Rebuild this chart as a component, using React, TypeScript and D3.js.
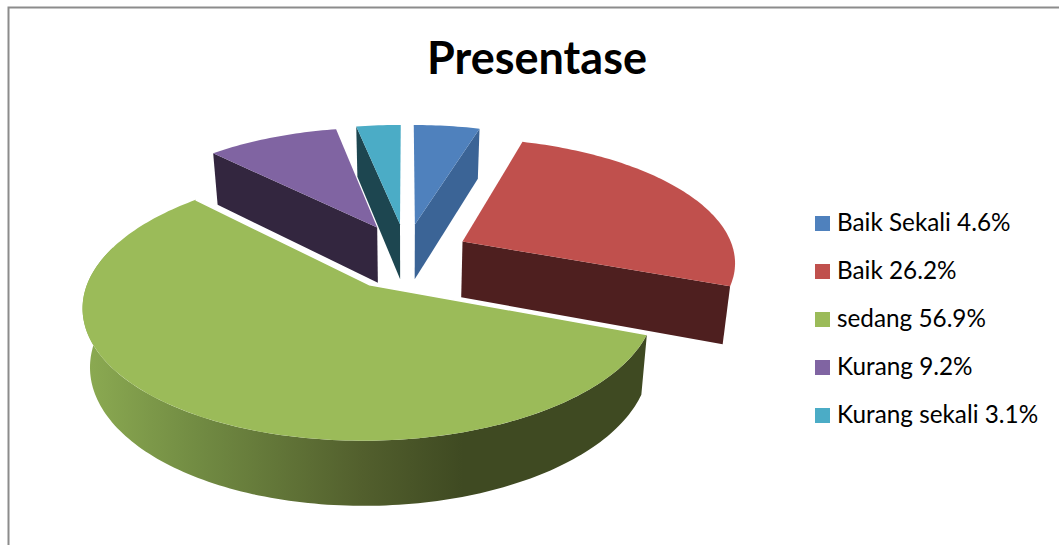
import React, { useRef, useEffect } from "react";
import * as d3 from "d3";

const categories = ["Baik Sekali", "Baik", "sedang", "Kurang", "Kurang sekali"];
const percentages = [4.6, 26.2, 56.9, 9.2, 3.1];
const topColors = ["#4F81BD", "#C0504D", "#9BBB59", "#8064A2", "#4BACC6"];
const sideColors = ["#3B6496", "#4E1F1F", "#3D4A20", "#33263F", "#1D4650"];

// 绘制顺序: 从后往前
const drawOrder = [0, 4, 3, 1, 2];
const wallSlice = 2; // only the big slice shows its curved wall

const width = 1059;
const height = 545;
const fontFamily = "Lato, 'Open Sans', sans-serif";

// 透视参数
const cx = 406;
const cy = 256;
const rx = 273;
const ry = 123;
const perspective = 0.15;
const explodeU = 0.235;
const explodeV = 0.27;
const depth = 56.5;
const bottomShrink = 0.023;

type Pt = [number, number];

// angle is clockwise from the far side of the disc
function project(angle: number, radius: number, mid: number, bottom = false): Pt {
  const u = explodeU * Math.sin(mid) + radius * Math.sin(angle);
  const v = explodeV * Math.cos(mid) + radius * Math.cos(angle);
  const n = 1 + perspective * v;
  const x = cx + (rx * u) / n;
  const y = cy - (ry * v) / n;
  if (!bottom) return [x, y];
  return [cx + (x - cx) * (1 - bottomShrink), y + depth / Math.pow(n, 0.7)];
}

function arcAngles(a0: number, a1: number): number[] {
  const steps = Math.max(2, Math.ceil((a1 - a0) / 0.02));
  return d3.range(steps + 1).map((i) => a0 + ((a1 - a0) * i) / steps);
}

export default function App() {
  const ref = useRef<SVGSVGElement>(null);

  useEffect(() => {
    const svg = d3.select(ref.current);
    svg.selectAll("*").remove();

    const slices = d3.pie<number>().sort(null)(percentages);
    const closed = d3.line().curve(d3.curveLinearClosed);
    const open = d3.line();

    const defs = svg.append("defs");
    const grad = defs
      .append("linearGradient")
      .attr("id", "greenWall")
      .attr("gradientUnits", "userSpaceOnUse")
      .attr("x1", 83)
      .attr("x2", 641)
      .attr("y1", 0)
      .attr("y2", 0);
    grad.append("stop").attr("offset", 0).attr("stop-color", "#8CAB52");
    grad.append("stop").attr("offset", 0.2).attr("stop-color", "#728C43");
    grad.append("stop").attr("offset", 0.5).attr("stop-color", "#525F2D");
    grad.append("stop").attr("offset", 0.68).attr("stop-color", "#3F4A22");
    grad.append("stop").attr("offset", 1).attr("stop-color", "#3F4A22");

    // 外框
    svg
      .append("path")
      .attr("d", `M8.5,${height}V7.5H${width}`)
      .attr("fill", "none")
      .attr("stroke", "#8C8C8C")
      .attr("stroke-width", 2);

    // 标题
    svg
      .append("text")
      .attr("x", 537)
      .attr("y", 74)
      .attr("text-anchor", "middle")
      .attr("font-family", fontFamily)
      .attr("font-size", 45)
      .attr("font-weight", 700)
      .attr("fill", "#000")
      .text("Presentase");

    const pieG = svg.append("g");

    drawOrder.forEach((i) => {
      const s = slices[i];
      const a0 = s.startAngle;
      const a1 = s.endAngle;
      const mid = (a0 + a1) / 2;
      const g = pieG.append("g");

      // 切面
      const radialFace = (angle: number) => {
        const pts: Pt[] = [
          project(angle, 0, mid),
          project(angle, 1, mid),
          project(angle, 1, mid, true),
          project(angle, 0, mid, true),
        ];
        g.append("path").attr("d", closed(pts)).attr("fill", sideColors[i]);
      };
      if (Math.sin(a0) < -1e-6) radialFace(a0);
      if (Math.sin(a1) > 1e-6) radialFace(a1);

      // 外侧弧面, runs a little past 270deg so the silhouette stays filled
      if (i === wallSlice) {
        const angles = arcAngles(a0, (3 * Math.PI) / 2 + 0.3);
        const pts: Pt[] = [
          ...angles.map((a) => project(a, 1, mid)),
          ...angles.slice().reverse().map((a) => project(a, 1, mid, true)),
        ];
        g.append("path").attr("d", closed(pts)).attr("fill", "url(#greenWall)");
      }

      // 顶面
      const topPts: Pt[] = [
        project(a0, 0, mid),
        ...arcAngles(a0, a1).map((a) => project(a, 1, mid)),
      ];
      g.append("path").attr("d", closed(topPts)).attr("fill", topColors[i]);

      // white edge along the straight cuts of the big slice
      if (i === wallSlice) {
        g.append("path")
          .attr("d", open([project(a1, 1, mid), project(a1, 0, mid), project(a0, 1, mid)]))
          .attr("fill", "none")
          .attr("stroke", "#fff")
          .attr("stroke-width", 1.5);
      }
    });

    // 图例
    const legendY = d3
      .scalePoint<number>()
      .domain(d3.range(categories.length))
      .range([223.5, 415.5]);
    const legend = svg
      .selectAll("g.legend")
      .data(categories)
      .join("g")
      .attr("class", "legend")
      .attr("transform", (_, i) => `translate(815,${legendY(i)})`);
    legend
      .append("rect")
      .attr("x", 0)
      .attr("y", -7.5)
      .attr("width", 15)
      .attr("height", 15)
      .attr("fill", (_, i) => topColors[i]);
    legend
      .append("text")
      .attr("x", 22)
      .attr("y", 7.5)
      .attr("font-family", fontFamily)
      .attr("font-size", 24.3)
      .attr("fill", "#000")
      .text((d, i) => `${d} ${percentages[i]}%`);
  }, []);

  return (
    <svg
      ref={ref}
      width={width}
      height={height}
      style={{ position: "absolute", left: 0, top: 0, background: "#fff" }}
    />
  );
}
